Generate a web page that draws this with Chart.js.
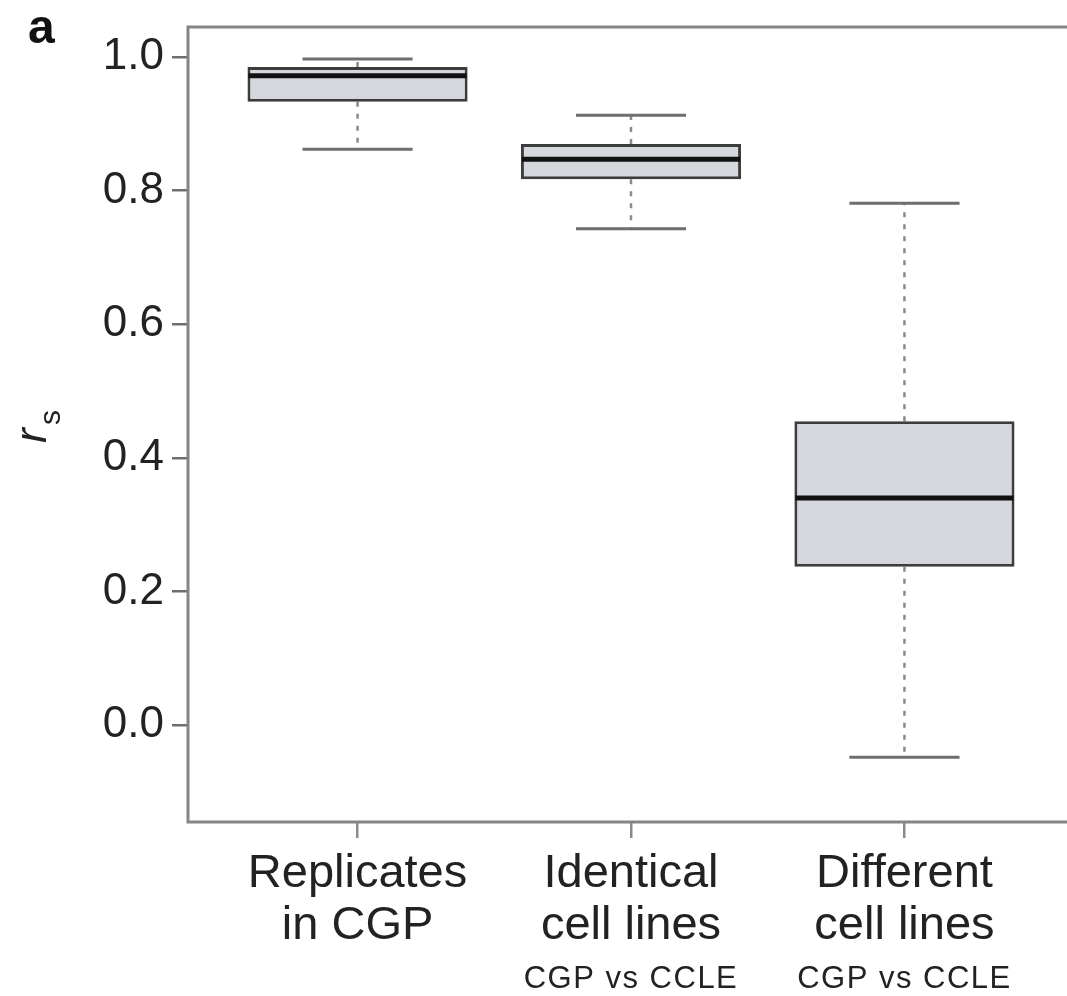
<!DOCTYPE html>
<html>
<head>
<meta charset="utf-8">
<script src="https://cdn.jsdelivr.net/npm/chart.js@4.4.0/dist/chart.umd.min.js"></script>
<style>
  html, body { margin: 0; padding: 0; background: #fff; overflow: hidden; }
  #wrap { width: 1080px; height: 996px; }
</style>
</head>
<body>
<div id="wrap"><canvas id="chart" width="1080" height="996"></canvas></div>
<script>
// box plot data
const groups = [['Replicates', 'in CGP'], ['Identical', 'cell lines'], ['Different', 'cell lines']];
const subLabels = ['', 'CGP vs CCLE', 'CGP vs CCLE'];
const positions = [1, 2, 3];
const lowerWhisker = [0.862, 0.743, -0.048];
const q1 = [0.933, 0.817, 0.237];
const median = [0.972, 0.847, 0.340];
const q3 = [0.985, 0.870, 0.455];
const upperWhisker = [0.997, 0.913, 0.781];
const yTicks = [0.0, 0.2, 0.4, 0.6, 0.8, 1.0];

const FONT = '"Liberation Sans", Arial, Helvetica, sans-serif';

// whiskers, caps, medians, frame and extra text
const boxExtras = {
  id: 'boxExtras',
  beforeDatasetsDraw(chart) {
    const { ctx, scales: { x, y } } = chart;
    const meta = chart.getDatasetMeta(0);
    ctx.save();
    meta.data.forEach((bar, i) => {
      const cx = x.getPixelForValue(positions[i]);
      const half = bar.width / 4;
      // dashed whiskers
      ctx.strokeStyle = '#8a8a8a';
      ctx.lineWidth = 2.5;
      ctx.setLineDash([5, 7]);
      ctx.beginPath();
      ctx.moveTo(cx, y.getPixelForValue(q3[i]));
      ctx.lineTo(cx, y.getPixelForValue(upperWhisker[i]));
      ctx.moveTo(cx, y.getPixelForValue(q1[i]));
      ctx.lineTo(cx, y.getPixelForValue(lowerWhisker[i]));
      ctx.stroke();
      // caps
      ctx.setLineDash([]);
      ctx.strokeStyle = '#6e6e6e';
      ctx.lineWidth = 3;
      ctx.beginPath();
      const yu = y.getPixelForValue(upperWhisker[i]);
      const yl = y.getPixelForValue(lowerWhisker[i]);
      ctx.moveTo(cx - half, yu); ctx.lineTo(cx + half, yu);
      ctx.moveTo(cx - half, yl); ctx.lineTo(cx + half, yl);
      ctx.stroke();
    });
    ctx.restore();
  },
  afterDatasetsDraw(chart) {
    const { ctx, scales: { y } } = chart;
    const meta = chart.getDatasetMeta(0);
    ctx.save();
    ctx.strokeStyle = '#111';
    ctx.lineWidth = 5;
    meta.data.forEach((bar, i) => {
      const ym = y.getPixelForValue(median[i]);
      ctx.beginPath();
      ctx.moveTo(bar.x - bar.width / 2 + 1, ym);
      ctx.lineTo(bar.x + bar.width / 2 - 1, ym);
      ctx.stroke();
    });
    ctx.restore();
  },
  afterDraw(chart) {
    const { ctx, chartArea: a, scales: { x } } = chart;
    ctx.save();
    // plot frame
    ctx.strokeStyle = '#858585';
    ctx.lineWidth = 3;
    ctx.strokeRect(a.left, a.top, a.right - a.left, a.bottom - a.top);

    // small third line under the category labels
    ctx.fillStyle = '#222';
    ctx.font = '31px ' + FONT;
    ctx.letterSpacing = '1.5px';
    ctx.textAlign = 'center';
    ctx.textBaseline = 'alphabetic';
    subLabels.forEach((s, i) => {
      if (s) ctx.fillText(s, x.getPixelForValue(positions[i]), 988);
    });
    ctx.letterSpacing = '0px';

    // y axis title r_s
    ctx.save();
    ctx.translate(46, 443);
    ctx.rotate(-Math.PI / 2);
    ctx.textAlign = 'left';
    ctx.font = 'italic 44px ' + FONT;
    ctx.fillText('r', 0, 0);
    ctx.font = '30px ' + FONT;
    ctx.fillText('s', 18, 14);
    ctx.restore();

    // panel letter
    ctx.font = 'bold 48px ' + FONT;
    ctx.textAlign = 'left';
    ctx.fillStyle = '#111';
    ctx.fillText('a', 28, 43);
    ctx.restore();
  }
};

new Chart(document.getElementById('chart'), {
  type: 'bar',
  data: {
    datasets: [{
      data: positions.map((p, i) => ({ x: p, y: [q1[i], q3[i]] })),
      backgroundColor: '#d4d7dc',
      borderColor: '#3c3c3c',
      borderWidth: 3,
      borderSkipped: false,
      barPercentage: 0.805,
      categoryPercentage: 1
    }]
  },
  options: {
    responsive: false,
    animation: false,
    events: [],
    layout: { padding: { top: 27, right: 6, left: 0, bottom: 0 } },
    plugins: { legend: { display: false }, tooltip: { enabled: false } },
    scales: {
      x: {
        type: 'linear',
        min: 0.38,
        max: 3.62,
        offset: false,
        afterBuildTicks: s => { s.ticks = positions.map(v => ({ value: v })); },
        afterFit: s => { s.height = 174; s.paddingLeft = 0; s.paddingRight = 0; },
        border: { display: false },
        grid: { offset: false, drawOnChartArea: false, drawTicks: true, tickLength: 16, color: '#8a8a8a', lineWidth: 2.5 },
        ticks: {
          autoSkip: false,
          maxRotation: 0,
          padding: 10,
          color: '#222',
          font: { family: FONT, size: 47, lineHeight: 1.11 },
          callback: (v) => groups[positions.indexOf(v)] || ''
        }
      },
      y: {
        min: -0.145,
        max: 1.045,
        afterBuildTicks: s => { s.ticks = yTicks.map(v => ({ value: v })); },
        afterFit: s => { s.width = 188; s.paddingTop = 0; s.paddingBottom = 0; },
        border: { display: false },
        grid: { drawOnChartArea: false, drawTicks: true, tickLength: 16, color: '#6e6e6e', lineWidth: 2.5 },
        ticks: {
          padding: 8,
          color: '#222',
          font: { family: FONT, size: 44 },
          callback: v => v.toFixed(1)
        }
      }
    }
  },
  plugins: [boxExtras]
});
</script>
</body>
</html>
